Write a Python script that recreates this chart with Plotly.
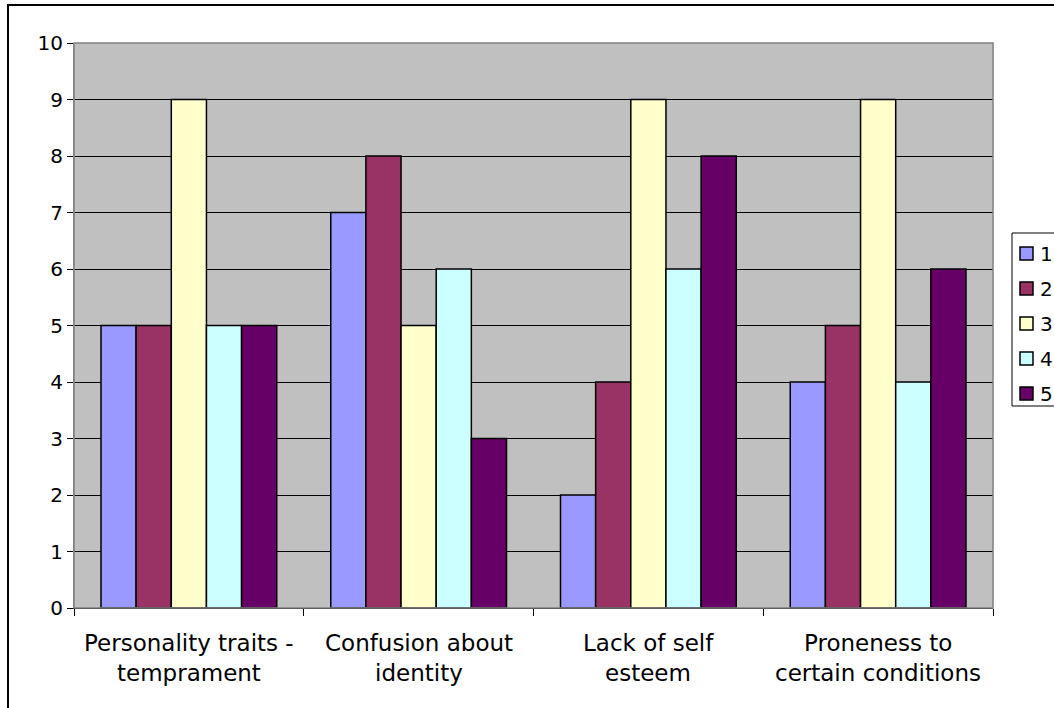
import plotly.graph_objects as go

categories = ["Personality traits - temprament", "Confusion about identity",
              "Lack of self esteem", "Proneness to certain conditions"]
label_lines = [["Personality traits -", "temprament"],
               ["Confusion about", "identity"],
               ["Lack of self", "esteem"],
               ["Proneness to", "certain conditions"]]
series_names = ["1", "2", "3", "4", "5"]
series_values = [
    [5, 7, 2, 4],
    [5, 8, 4, 5],
    [9, 5, 9, 9],
    [5, 6, 6, 4],
    [5, 3, 8, 6],
]
colors = ["#9999FF", "#993366", "#FFFFCC", "#CCFFFF", "#660066"]

W, H = 1054, 708
L, R, T, B = 74, 61, 43, 100
pw, ph = W - L - R, H - T - B

FONT = "DejaVu Sans"


def px_x(px):
    return (px - L) / pw


def px_y(py):
    return (H - B - py) / ph


fig = go.Figure()
for name, vals, col in zip(series_names, series_values, colors):
    fig.add_trace(go.Bar(
        x=categories, y=vals, name=name, showlegend=False,
        marker=dict(color=col, line=dict(color="black", width=1.5)),
    ))

annotations = []
for cat, lines in zip(categories, label_lines):
    for i, txt in enumerate(lines):
        annotations.append(dict(
            x=cat, xref="x", y=0, yref="paper", yanchor="middle",
            yshift=-(35 + 30 * i), text=txt, showarrow=False,
            font=dict(family=FONT, size=23, color="black"),
        ))

shapes = [
    dict(type="rect", xref="paper", yref="paper", x0=0, x1=1, y0=0, y1=1,
         line=dict(color="#808080", width=1.5), layer="above"),
    dict(type="rect", xref="paper", yref="paper",
         x0=px_x(8), x1=px_x(W + 10), y0=px_y(H + 10), y1=px_y(5),
         line=dict(color="black", width=2)),
    # legend box
    dict(type="rect", xref="paper", yref="paper",
         x0=px_x(1012), x1=px_x(W + 10), y0=px_y(406), y1=px_y(233),
         fillcolor="white", line=dict(color="black", width=1)),
]

# custom legend entries (legend is cut by the right edge in the original)
for i, (name, col) in enumerate(zip(series_names, colors)):
    cy = 253.5 + 35 * i
    shapes.append(dict(type="rect", xref="paper", yref="paper",
                       x0=px_x(1020), x1=px_x(1033),
                       y0=px_y(cy + 6.5), y1=px_y(cy - 6.5),
                       fillcolor=col, line=dict(color="black", width=1.5)))
    annotations.append(dict(x=px_x(1038), xref="paper", xanchor="left",
                            y=px_y(cy), yref="paper", yanchor="middle",
                            text=name, showarrow=False,
                            font=dict(family=FONT, size=20, color="black")))

fig.update_layout(
    width=W, height=H,
    margin=dict(l=L, r=R, t=T, b=B, pad=0, autoexpand=False),
    paper_bgcolor="white", plot_bgcolor="#C0C0C0",
    barmode="group", bargap=0.235, bargroupgap=0,
    font=dict(family=FONT, size=20, color="black"),
    showlegend=False,
    xaxis=dict(
        showgrid=False, ticks="outside", tickson="boundaries", ticklen=7,
        tickcolor="black", showticklabels=False,
        showline=True, linecolor="black", linewidth=1,
    ),
    yaxis=dict(
        range=[0, 10], dtick=1, showgrid=True, gridcolor="black", gridwidth=1,
        ticks="outside", ticklen=6, tickcolor="black",
        showline=True, linecolor="#808080", linewidth=1,
        zeroline=False, tickfont=dict(family=FONT, size=20, color="black"),
    ),
    annotations=annotations,
    shapes=shapes,
)

fig.write_html("out.html")
